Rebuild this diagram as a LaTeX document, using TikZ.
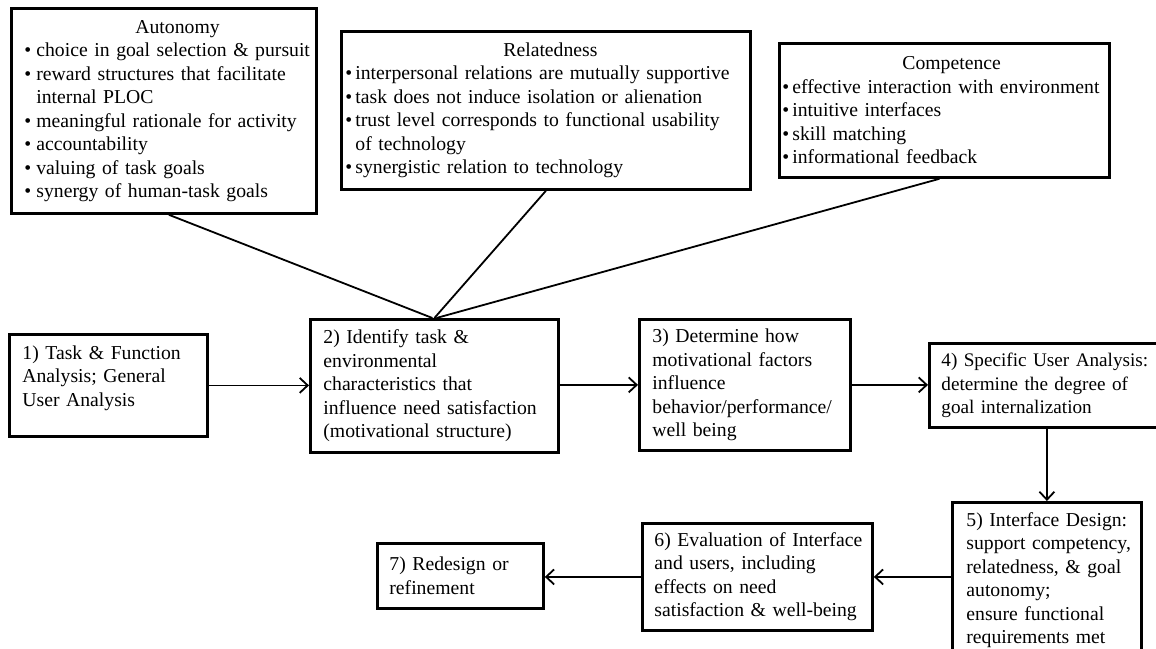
\documentclass[tikz,border=0pt]{standalone}
\usepackage{fontspec}
\setmainfont{Liberation Serif}
\usetikzlibrary{arrows.meta}
\newcommand{\bl}{\makebox[12pt][l]{•}}
\newcommand{\bs}{\makebox[10pt][l]{•}}
\begin{document}
\begin{tikzpicture}[x=1pt,y=-1pt,
  box/.style={draw, line width=2.8pt, anchor=north west, align=left, inner ysep=0pt,
    font={\fontsize{19.7pt}{23.5pt}\selectfont}},
  conn/.style={line width=1.8pt},
  arr/.style={line width=1.8pt, -{Straight Barb[length=8pt,width=15pt,line width=1.8pt]}}]
\fill[white] (0,0) rectangle (1156,648);
\useasboundingbox (0,0) rectangle (1156,648);

% top boxes
\node[box, inner xsep=13pt, text width=279pt, minimum height=205pt] (aut) at (10,7)
 {\hspace*{111pt}Autonomy\\
  \bl\mbox{choice in goal selection \& pursuit}\\
  \bl\mbox{reward structures that facilitate}\\
  \hspace*{12pt}\mbox{internal PLOC}\\
  \bl\mbox{meaningful rationale for activity}\\
  \bl\mbox{accountability}\\
  \bl\mbox{valuing of task goals}\\
  \bl\mbox{synergy of human-task goals}};

\node[box, inner xsep=4pt, text width=401pt, minimum height=158pt] (rel) at (340,30)
 {\hspace*{158pt}Relatedness\\
  \bs\mbox{interpersonal relations are mutually supportive}\\
  \bs\mbox{task does not induce isolation or alienation}\\
  \bs\mbox{trust level corresponds to functional usability}\\
  \hspace*{10pt}\mbox{of technology}\\
  \bs\mbox{synergistic relation to technology}};

\node[box, inner xsep=3pt, text width=324pt, minimum height=134pt] (comp) at (778,42)
 {\hspace*{120pt}Competence\\
  \bs\mbox{effective interaction with environment}\\
  \bs\mbox{intuitive interfaces}\\
  \bs\mbox{skill matching}\\
  \bs\mbox{informational feedback}};

% process boxes
\node[box, inner xsep=13pt, text width=172pt, minimum height=102pt] (b1) at (8,333)
 {\mbox{1) Task \& Function}\\
  \mbox{Analysis; General}\\
  \mbox{User Analysis}\rule[-19pt]{0pt}{0pt}};

\node[box, inner xsep=13pt, text width=222pt, minimum height=133pt] (b2) at (309,318)
 {\mbox{2) Identify task \&}\\
  \mbox{environmental}\\
  \mbox{characteristics that}\\
  \mbox{influence need satisfaction}\\
  \mbox{(motivational structure)}};

\node[box, inner xsep=13pt, text width=185pt, minimum height=131pt] (b3) at (638,318)
 {\mbox{3) Determine how}\\
  \mbox{motivational factors}\\
  \mbox{influence}\\
  \mbox{behavior/performance/}\\
  \mbox{well being}};

\node[box, inner xsep=12pt, text width=208pt, minimum height=84pt,
      font={\fontsize{19.2pt}{23.5pt}\selectfont}] (b4) at (928,342)
 {\mbox{4) Specific User Analysis:}\\
  \mbox{determine the degree of}\\
  \mbox{goal internalization}};

\node[box, inner xsep=14pt, text width=161pt, minimum height=156pt] (b5) at (951,501)
 {\mbox{5) Interface Design:}\\
  \mbox{support competency,}\\
  \mbox{relatedness, \& goal}\\
  \mbox{autonomy;}\\
  \mbox{ensure functional}\\
  \mbox{requirements met}};

\node[box, inner xsep=12pt, text width=206pt, minimum height=107pt] (b6) at (641,522)
 {\mbox{6) Evaluation of Interface}\\
  \mbox{and users, including}\\
  \mbox{effects on need}\\
  \mbox{satisfaction \& well-being}};

\node[box, inner xsep=12pt, text width=142pt, minimum height=65pt] (b7) at (376,542)
 {\mbox{7) Redesign or}\\
  \mbox{refinement}};

% connectors from need boxes
\draw[conn] ([xshift=5pt]aut.south) -- ([xshift=-2pt]b2.north);
\draw[conn] (rel.south) -- (b2.north);
\draw[conn] ([xshift=-5pt]comp.south) -- ([xshift=2pt]b2.north);

% process arrows
\draw[arr] (b1.east) -- (b1.east -| b2.west);
\draw[arr] (b3.west -| b2.east) -- (b3.west);
\draw[arr] (b3.east) -- (b3.east -| b4.west);
\draw[arr] (b5.north |- b4.south) -- (b5.north);
\draw[arr] (b6.east -| b5.west) -- (b6.east);
\draw[arr] (b6.west) -- (b6.west -| b7.east);
\end{tikzpicture}
\end{document}
